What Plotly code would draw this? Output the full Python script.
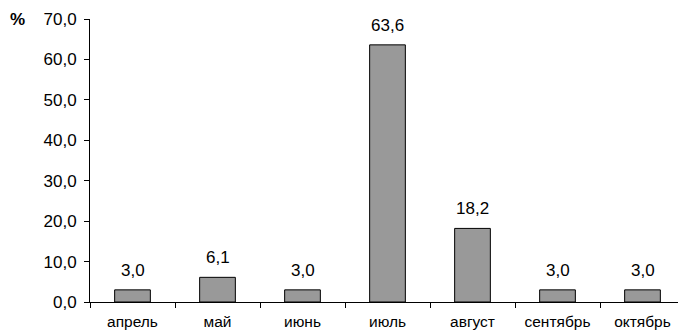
import plotly.graph_objects as go

categories = ["апрель", "май", "июнь", "июль", "август", "сентябрь", "октябрь"]
values = [3.0, 6.1, 3.0, 63.6, 18.2, 3.0, 3.0]
y_ticks = [0, 10, 20, 30, 40, 50, 60, 70]

FONT = "Liberation Sans, Arial"

fig = go.Figure(go.Bar(
    x=categories, y=values,
    marker=dict(color="#999999", line=dict(color="#000000", width=1)),
    width=0.42,
    hoverinfo="skip",
))

for c, v in zip(categories, values):
    fig.add_annotation(
        x=c, y=v, text=f"{v:.1f}".replace(".", ","),
        xref="x", yref="y", showarrow=False,
        yanchor="bottom", yshift=8,
        font=dict(family=FONT, size=17, color="#000000"),
    )

fig.update_layout(
    width=678, height=324,
    margin=dict(l=82, r=1, t=11, b=30),
    paper_bgcolor="white", plot_bgcolor="white",
    separators=", ",
    showlegend=False,
    font=dict(family=FONT, color="#000000"),
    bargap=0.58,
)
fig.update_yaxes(
    range=[0, 70], tickvals=y_ticks, tickformat=".1f",
    showgrid=False, zeroline=False,
    showline=True, linecolor="#000000", linewidth=1,
    ticks="outside", ticklen=5, tickcolor="#000000",
    tickfont=dict(size=17), ticklabelstandoff=4,
)
fig.update_xaxes(
    showgrid=False, showline=True, linecolor="#000000", linewidth=1,
    ticks="outside", ticklen=5, tickcolor="#000000", tickson="boundaries",
    tickfont=dict(size=15.5), ticklabelstandoff=5,
)
fig.add_annotation(
    text="<b>%</b>", xref="paper", yref="paper", x=-0.1378, y=1.0,
    xanchor="left", yanchor="middle", showarrow=False,
    font=dict(size=17, family=FONT),
)

fig.write_html("out.html")
